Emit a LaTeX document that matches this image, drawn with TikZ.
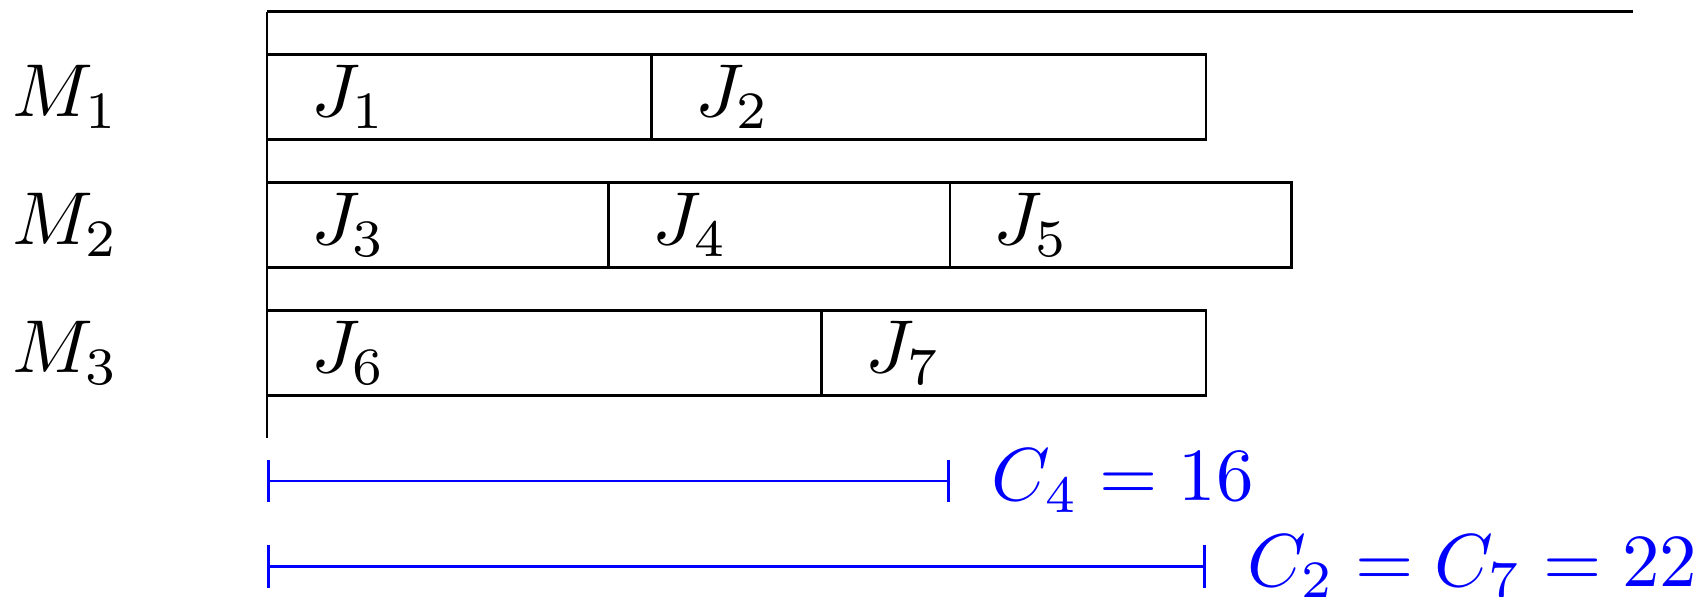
\documentclass[tikz,border=0pt]{standalone}
\usetikzlibrary{arrows.meta}
\definecolor{spanblue}{HTML}{0000FF}
\newcommand{\glab}[1]{\scalebox{2.5}{$#1$}}

\begin{document}
\begin{tikzpicture}[
  x=0.5cm, y=0.5cm,
  line width=0.9pt,
  job/.style={draw=black, line width=0.9pt},
  mlabel/.style={anchor=west, inner sep=0pt, font=\normalsize},
  jlabel/.style={anchor=west, inner sep=0pt, font=\normalsize},
  span/.style={{Bar[width=0.5cm]}-{Bar[width=0.5cm]}, draw=spanblue, line width=0.9pt},
  clabel/.style={anchor=west, inner sep=0pt, font=\normalsize, text=spanblue}
]
  \useasboundingbox (-6.26,0.27) rectangle (33.58,-13.72);

  % time axis
  \coordinate (o) at (0,0);
  \coordinate (tend) at (32,0);
  \coordinate (obot) at (0,-10);
  \draw (o) -- (tend);
  \draw (o) -- (obot);

  % machines
  \node[mlabel] (m1) at (-6.0,-2) {\glab{M_1}};
  \node[mlabel] (m2) at (-6.0,-5) {\glab{M_2}};
  \node[mlabel] (m3) at (-6.0,-8) {\glab{M_3}};

  % M1
  \draw[job] (0,-1) rectangle (9,-3);
  \draw[job] (9,-1) rectangle (22,-3);
  \node[jlabel] (j1) at (1.0,-2) {\glab{J_1}};
  \node[jlabel] (j2) at (10.0,-2) {\glab{J_2}};

  % M2
  \draw[job] (0,-4) rectangle (8,-6);
  \draw[job] (8,-4) rectangle (16,-6);
  \draw[job] (16,-4) rectangle (24,-6);
  \node[jlabel] (j3) at (1.0,-5) {\glab{J_3}};
  \node[jlabel] (j4) at (9.0,-5) {\glab{J_4}};
  \node[jlabel] (j5) at (17.0,-5) {\glab{J_5}};

  % M3
  \draw[job] (0,-7) rectangle (13,-9);
  \draw[job] (13,-7) rectangle (22,-9);
  \node[jlabel] (j6) at (1.0,-8) {\glab{J_6}};
  \node[jlabel] (j7) at (14.0,-8) {\glab{J_7}};

  % completion times
  \coordinate (c4a) at (0,-11);
  \coordinate (c4b) at (16,-11);
  \coordinate (c2a) at (0,-13);
  \coordinate (c2b) at (22,-13);
  \draw[span] (c4a) -- (c4b);
  \draw[span] (c2a) -- (c2b);
  \node[clabel] (c4) at (16.95,-11) {\glab{C_4 = 16}};
  \node[clabel] (c27) at (22.95,-13) {\glab{C_2 = C_7 = 22}};
\end{tikzpicture}
\end{document}
